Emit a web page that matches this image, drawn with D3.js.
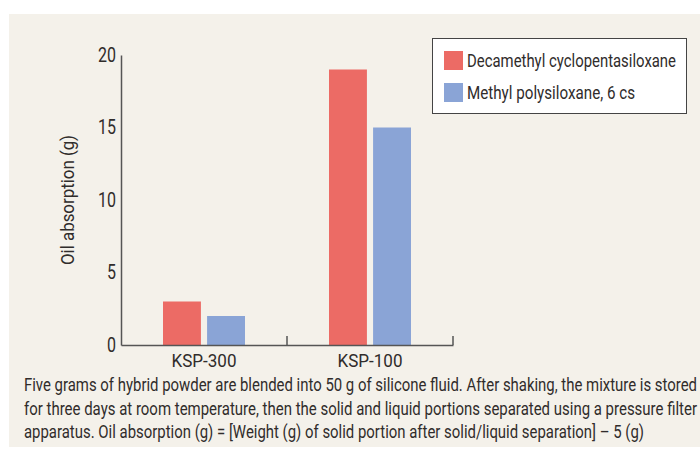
<!DOCTYPE html>
<html>
<head>
<meta charset="utf-8">
<style>
  body { margin: 0; background: #fff; }
  text { font-family: Roboto, "Liberation Sans", sans-serif; fill: #302c2b; }
</style>
</head>
<body>
<svg width="700" height="452"></svg>
<script src="https://d3js.org/d3.v7.min.js"></script>
<script>
// data
var categories = ['KSP-300', 'KSP-100'];
var seriesNames = ['Decamethyl cyclopentasiloxane', 'Methyl polysiloxane, 6 cs'];
var decamethyl = [3, 19];
var methylPoly = [2, 15];
var yTicks = [0, 5, 10, 15, 20];
var captionLines = [
  'Five grams of hybrid powder are blended into 50 g of silicone fluid. After shaking, the mixture is stored',
  'for three days at room temperature, then the solid and liquid portions separated using a pressure filter',
  'apparatus. Oil absorption (g) = [Weight (g) of solid portion after solid/liquid separation] \u2013 5 (g)'
];
var colors = ['#ec6b65', '#8aa4d6'];

var svg = d3.select('svg');

// the original uses a condensed face; squeeze the glyphs horizontally
function squeeze(sel, factor) {
  sel.each(function () {
    var w = this.getComputedTextLength();
    d3.select(this).attr('textLength', w * factor).attr('lengthAdjust', 'spacingAndGlyphs');
  });
}
function fitTo(sel, widths) {
  sel.attr('textLength', function (d, i) { return widths[i]; })
    .attr('lengthAdjust', 'spacingAndGlyphs');
}

// beige panel
svg.append('rect')
  .attr('x', 9).attr('y', 14)
  .attr('width', 691).attr('height', 433)
  .attr('fill', '#f4f1ea');

var x = d3.scaleBand().domain(categories).range([121, 453]);
var xInner = d3.scaleBand().domain(seriesNames).range([42, 124]).paddingInner(0.14);
var y = d3.scaleLinear().domain([0, 20]).range([345, 55]);

// bars
var rows = categories.map(function (c, i) {
  return { cat: c, vals: [decamethyl[i], methylPoly[i]] };
});
var groups = svg.selectAll('g.grp').data(rows).enter().append('g')
  .attr('class', 'grp')
  .attr('transform', function (d) { return 'translate(' + x(d.cat) + ',0)'; });
groups.selectAll('rect')
  .data(function (d) { return d.vals.map(function (v, j) { return { name: seriesNames[j], v: v, j: j }; }); })
  .enter().append('rect')
  .attr('x', function (d) { return xInner(d.name); })
  .attr('width', xInner.bandwidth())
  .attr('y', function (d) { return y(d.v); })
  .attr('height', function (d) { return y(0) - y(d.v); })
  .attr('fill', function (d) { return colors[d.j]; });

// y axis
var yAxis = svg.append('g')
  .attr('transform', 'translate(121,0)')
  .call(d3.axisLeft(y).tickValues(yTicks).tickSize(0).tickPadding(5));
yAxis.select('.domain').attr('stroke', '#555').attr('stroke-width', 1.5);
yAxis.selectAll('text')
  .attr('font-family', 'Roboto, sans-serif')
  .attr('font-size', 20).attr('fill', '#302c2b')
  .call(squeeze, 0.8);

// x axis
var xAxis = svg.append('g')
  .attr('transform', 'translate(0,345)')
  .call(d3.axisBottom(x).tickSize(0).tickPadding(9).tickSizeOuter(0));
xAxis.select('.domain').attr('stroke', '#555').attr('stroke-width', 1.5);
xAxis.selectAll('text')
  .attr('font-family', 'Roboto, sans-serif')
  .attr('font-size', 18.5).attr('fill', '#302c2b')
  .call(fitTo, [65, 65]);
xAxis.selectAll('line.sep').data(categories).enter().append('line')
  .attr('class', 'sep')
  .attr('x1', function (d) { return x(d) + x.bandwidth(); })
  .attr('x2', function (d) { return x(d) + x.bandwidth(); })
  .attr('y1', 0).attr('y2', -9)
  .attr('stroke', '#555').attr('stroke-width', 1.5);

// y label
svg.append('text')
  .attr('transform', 'translate(74,' + (y(0) + y(20)) / 2 + ') rotate(-90)')
  .attr('text-anchor', 'middle')
  .attr('font-size', 18.5)
  .attr('textLength', 130).attr('lengthAdjust', 'spacingAndGlyphs')
  .text('Oil absorption (g)');

// legend
var legend = svg.append('g');
legend.append('rect')
  .attr('x', 432.5).attr('y', 38.5).attr('width', 254).attr('height', 75)
  .attr('fill', '#fff').attr('stroke', '#444').attr('stroke-width', 1);
var li = legend.selectAll('g.li').data(seriesNames).enter().append('g')
  .attr('class', 'li')
  .attr('transform', function (d, i) { return 'translate(444,' + (51 + i * 32) + ')'; });
li.append('rect').attr('width', 19).attr('height', 19)
  .attr('fill', function (d, i) { return colors[i]; });
li.append('text').attr('x', 23).attr('y', 16)
  .attr('font-size', 18)
  .text(function (d) { return d; })
  .call(fitTo, [209, 168]);

// caption
svg.selectAll('text.cap').data(captionLines).enter().append('text')
  .attr('class', 'cap')
  .attr('x', 24)
  .attr('y', function (d, i) { return 391 + i * 23.5; })
  .attr('font-size', 17.5)
  .text(function (d) { return d; })
  .call(fitTo, [673, 673, 620]);
</script>
</body>
</html>
